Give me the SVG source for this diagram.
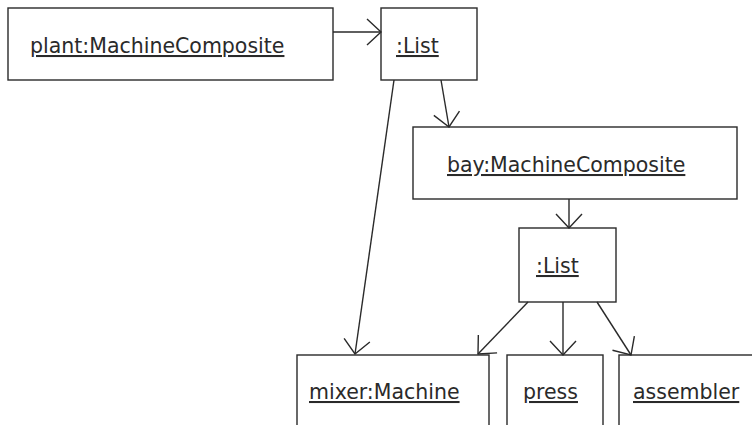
<svg xmlns="http://www.w3.org/2000/svg" width="752" height="425" viewBox="0 0 752 425">
<style>
.box{fill:#fff;stroke:#2a2a2a;stroke-width:1.4}
.lbl{font-family:"DejaVu Sans",Verdana,sans-serif;font-size:20.5px;fill:#2a2a2a;text-decoration:underline}
.con{stroke:#2a2a2a;stroke-width:1.4;fill:none;marker-end:url(#open)}
</style>
<defs>
<marker id="open" markerUnits="userSpaceOnUse" viewBox="-20 -16 22 32" refX="0" refY="0" markerWidth="22" markerHeight="32" orient="auto" overflow="visible">
<path d="M-14,-13 L0,0 L-14,13" fill="none" stroke="#2a2a2a" stroke-width="1.4"/>
</marker>
</defs>
<rect width="752" height="425" fill="#fff"/>
<g id="plant"><rect class="box" x="8" y="8" width="325" height="72"/><text class="lbl" x="30" y="53">plant:MachineComposite</text></g>
<g id="list1"><rect class="box" x="381" y="8" width="96" height="72"/><text class="lbl" x="396" y="53">:List</text></g>
<g id="bay"><rect class="box" x="413" y="127" width="324" height="72"/><text class="lbl" x="447" y="172">bay:MachineComposite</text></g>
<g id="list2"><rect class="box" x="519" y="228" width="97" height="74"/><text class="lbl" x="536" y="273">:List</text></g>
<g id="mixer"><rect class="box" x="297" y="355" width="192" height="90"/><text class="lbl" x="309" y="399">mixer:Machine</text></g>
<g id="press"><rect class="box" x="507" y="355" width="96" height="90"/><text class="lbl" x="523" y="399">press</text></g>
<g id="assembler"><rect class="box" x="619" y="355" width="150" height="90"/><text class="lbl" x="633" y="399">assembler</text></g>
<g id="connectors">
<line class="con" x1="333" y1="32" x2="381" y2="32"/>
<line class="con" x1="394" y1="80" x2="355" y2="354"/>
<line class="con" x1="441" y1="80" x2="449" y2="127"/>
<line class="con" x1="569" y1="199" x2="569" y2="228"/>
<line class="con" x1="528" y1="302" x2="478" y2="354"/>
<line class="con" x1="563" y1="302" x2="563" y2="355"/>
<line class="con" x1="597" y1="302" x2="631" y2="355"/>
</g>
</svg>
